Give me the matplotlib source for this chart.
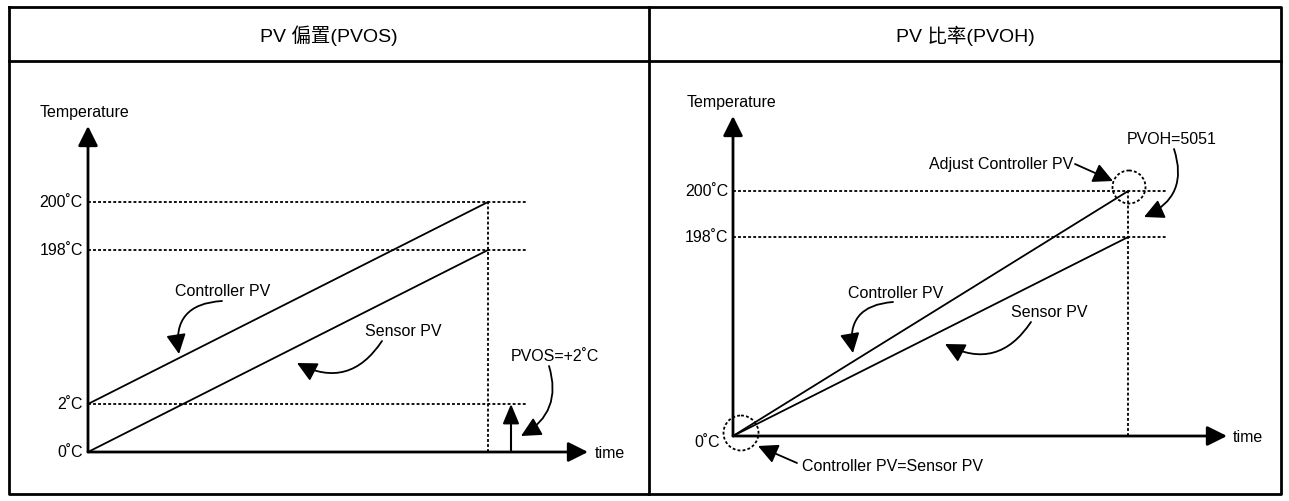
import numpy as np
import matplotlib
matplotlib.use('Agg')
from matplotlib import pyplot as plt
from matplotlib.patches import Circle

plt.rcParams['font.family'] = ['Liberation Sans', 'Noto Sans CJK TC', 'DejaVu Sans']

W, H = 1289, 502

titles = ['PV 偏置(PVOS)', 'PV 比率(PVOH)']

# left panel: PV offset
os_temps = [0, 2, 198, 200]
os_labels = ['0˚C', '2˚C', '198˚C', '200˚C']
os_time = [0, 10]
os_ctrl = [2, 200]
os_sensor = [0, 198]
pvos = 2

# right panel: PV ratio
oh_temps = [0, 198, 200]
oh_labels = ['0˚C', '198˚C', '200˚C']
oh_time = [0, 10]
oh_ctrl = [0, 200]
oh_sensor = [0, 198]
pvoh = 5051

FS = 11.5
DOT = (0, (1.6, 1.2))
HEAD = '-|>,head_length=0.6,head_width=0.3'


def schematic_scale(temps, heights):
    # the drawing is not to scale: map temperatures to pixel heights piecewise
    t = list(temps) + [1000]
    h = list(heights) + [heights[-1] + 1000 - temps[-1]]
    fwd = lambda v: np.interp(v, t, h)
    inv = lambda v: np.interp(v, h, t)
    return fwd, inv


def panel(x0, x1, ytop, ybot, temps, heights):
    ax = fig.add_axes([x0 / W, 1 - ybot / H, (x1 - x0) / W, (ybot - ytop) / H])
    fwd, inv = schematic_scale(temps, heights)
    ax.set_yscale('function', functions=(fwd, inv))
    ax.set_xlim(0, 12.5)
    ax.set_ylim(0, float(inv(ybot - ytop)))
    ax.axis('off')
    # axis arrows
    arr = dict(arrowstyle=HEAD, lw=2, color='k', shrinkA=0, shrinkB=0, mutation_scale=20)
    ax.annotate('', xy=(1, 0), xytext=(0, 0), xycoords='axes fraction', arrowprops=arr)
    ax.annotate('', xy=(0, 1), xytext=(0, 0), xycoords='axes fraction', arrowprops=arr)
    return ax


fig = plt.figure(figsize=(W / 100, H / 100), dpi=100)
bg = fig.add_axes([0, 0, 1, 1])
bg.set_xlim(0, W)
bg.set_ylim(H, 0)
bg.axis('off')

# table frame
bg.plot([9, 1281, 1281, 9, 9], [8, 8, 495, 495, 8], color='k', lw=2)
bg.plot([9, 1281], [62, 62], color='k', lw=2)
bg.plot([649, 649], [8, 495], color='k', lw=2)
bg.text(329, 36, titles[0], ha='center', va='center', fontsize=14)
bg.text(965, 36, titles[1], ha='center', va='center', fontsize=14)

# ---------- left panel ----------
axl = panel(88, 588, 127, 453, os_temps, [0, 48, 202, 250])
for t, lab in zip(os_temps, os_labels):
    if t > 0:
        axl.plot([0, 10.97], [t, t], color='k', lw=1.3, ls=DOT, clip_on=False)
    axl.annotate(lab, xy=(0, t), xytext=(-5, 0), textcoords='offset pixels',
                 ha='right', va='center', fontsize=FS)
axl.plot([os_time[1]] * 2, [0, max(os_temps)], color='k', lw=1.3, ls=DOT, clip_on=False)
axl.plot(os_time, os_ctrl, color='k', lw=1.3, clip_on=False)
axl.plot(os_time, os_sensor, color='k', lw=1.3, clip_on=False)
axl.annotate('', xy=(10.575, pvos), xytext=(10.575, 0),
             arrowprops=dict(arrowstyle='-|>,head_length=0.6,head_width=0.25', lw=1.5,
                             color='k', shrinkA=0, shrinkB=0, mutation_scale=20))

bg.text(40, 113, 'Temperature', ha='left', va='center', fontsize=FS)
bg.text(595, 454, 'time', ha='left', va='center', fontsize=FS)

curve = dict(arrowstyle=HEAD, lw=1.3, color='k', shrinkA=0, shrinkB=0, mutation_scale=20)
bg.text(223, 292, 'Controller PV', ha='center', va='center', fontsize=FS)
bg.annotate('', xy=(179, 355), xytext=(222, 302),
            arrowprops=dict(curve, connectionstyle='arc3,rad=0.55'))
bg.text(403, 332, 'Sensor PV', ha='center', va='center', fontsize=FS)
bg.annotate('', xy=(297, 364), xytext=(382, 342),
            arrowprops=dict(curve, connectionstyle='arc3,rad=-0.45'))
bg.text(555, 357, 'PVOS=+%d˚C' % pvos, ha='center', va='center', fontsize=FS)
bg.annotate('', xy=(521, 437), xytext=(549, 367),
            arrowprops=dict(curve, connectionstyle='arc3,rad=-0.4'))

# ---------- right panel ----------
axr = panel(733, 1227, 117, 437, oh_temps, [0, 199, 245])
for t, lab in zip(oh_temps, oh_labels):
    if t > 0:
        axr.plot([0, 10.96], [t, t], color='k', lw=1.3, ls=DOT, clip_on=False)
        axr.annotate(lab, xy=(0, t), xytext=(-5, 0), textcoords='offset pixels',
                     ha='right', va='center', fontsize=FS)
    else:
        axr.annotate(lab, xy=(0, t), xytext=(-13, -6), textcoords='offset pixels',
                     ha='right', va='center', fontsize=FS)
axr.plot([oh_time[1]] * 2, [0, max(oh_temps)], color='k', lw=1.3, ls=DOT, clip_on=False)
axr.plot(oh_time, oh_ctrl, color='k', lw=1.3, clip_on=False)
axr.plot(oh_time, oh_sensor, color='k', lw=1.3, clip_on=False)

bg.text(776, 103, 'Temperature', ha='right', va='center', fontsize=FS)
bg.text(1233, 438, 'time', ha='left', va='center', fontsize=FS)

bg.add_patch(Circle((1129, 188), 16.5, fill=False, color='k', lw=1.3, ls=DOT))
bg.add_patch(Circle((741, 434), 17.5, fill=False, color='k', lw=1.3, ls=DOT))

bg.text(1073, 165, 'Adjust Controller PV', ha='right', va='center', fontsize=FS)
bg.annotate('', xy=(1113, 182), xytext=(1075, 165), arrowprops=curve)
bg.text(1172, 140, 'PVOH=%d' % pvoh, ha='center', va='center', fontsize=FS)
bg.annotate('', xy=(1144, 218), xytext=(1174, 150),
            arrowprops=dict(curve, connectionstyle='arc3,rad=-0.45'))
bg.text(802, 467, 'Controller PV=Sensor PV', ha='left', va='center', fontsize=FS)
bg.annotate('', xy=(758, 447), xytext=(797, 464), arrowprops=curve)
bg.text(896, 294, 'Controller PV', ha='center', va='center', fontsize=FS)
bg.annotate('', xy=(853, 354), xytext=(893, 303),
            arrowprops=dict(curve, connectionstyle='arc3,rad=0.55'))
bg.text(1049, 313, 'Sensor PV', ha='center', va='center', fontsize=FS)
bg.annotate('', xy=(945, 345), xytext=(1031, 323),
            arrowprops=dict(curve, connectionstyle='arc3,rad=-0.45'))

fig.savefig('out.png', dpi=100)
